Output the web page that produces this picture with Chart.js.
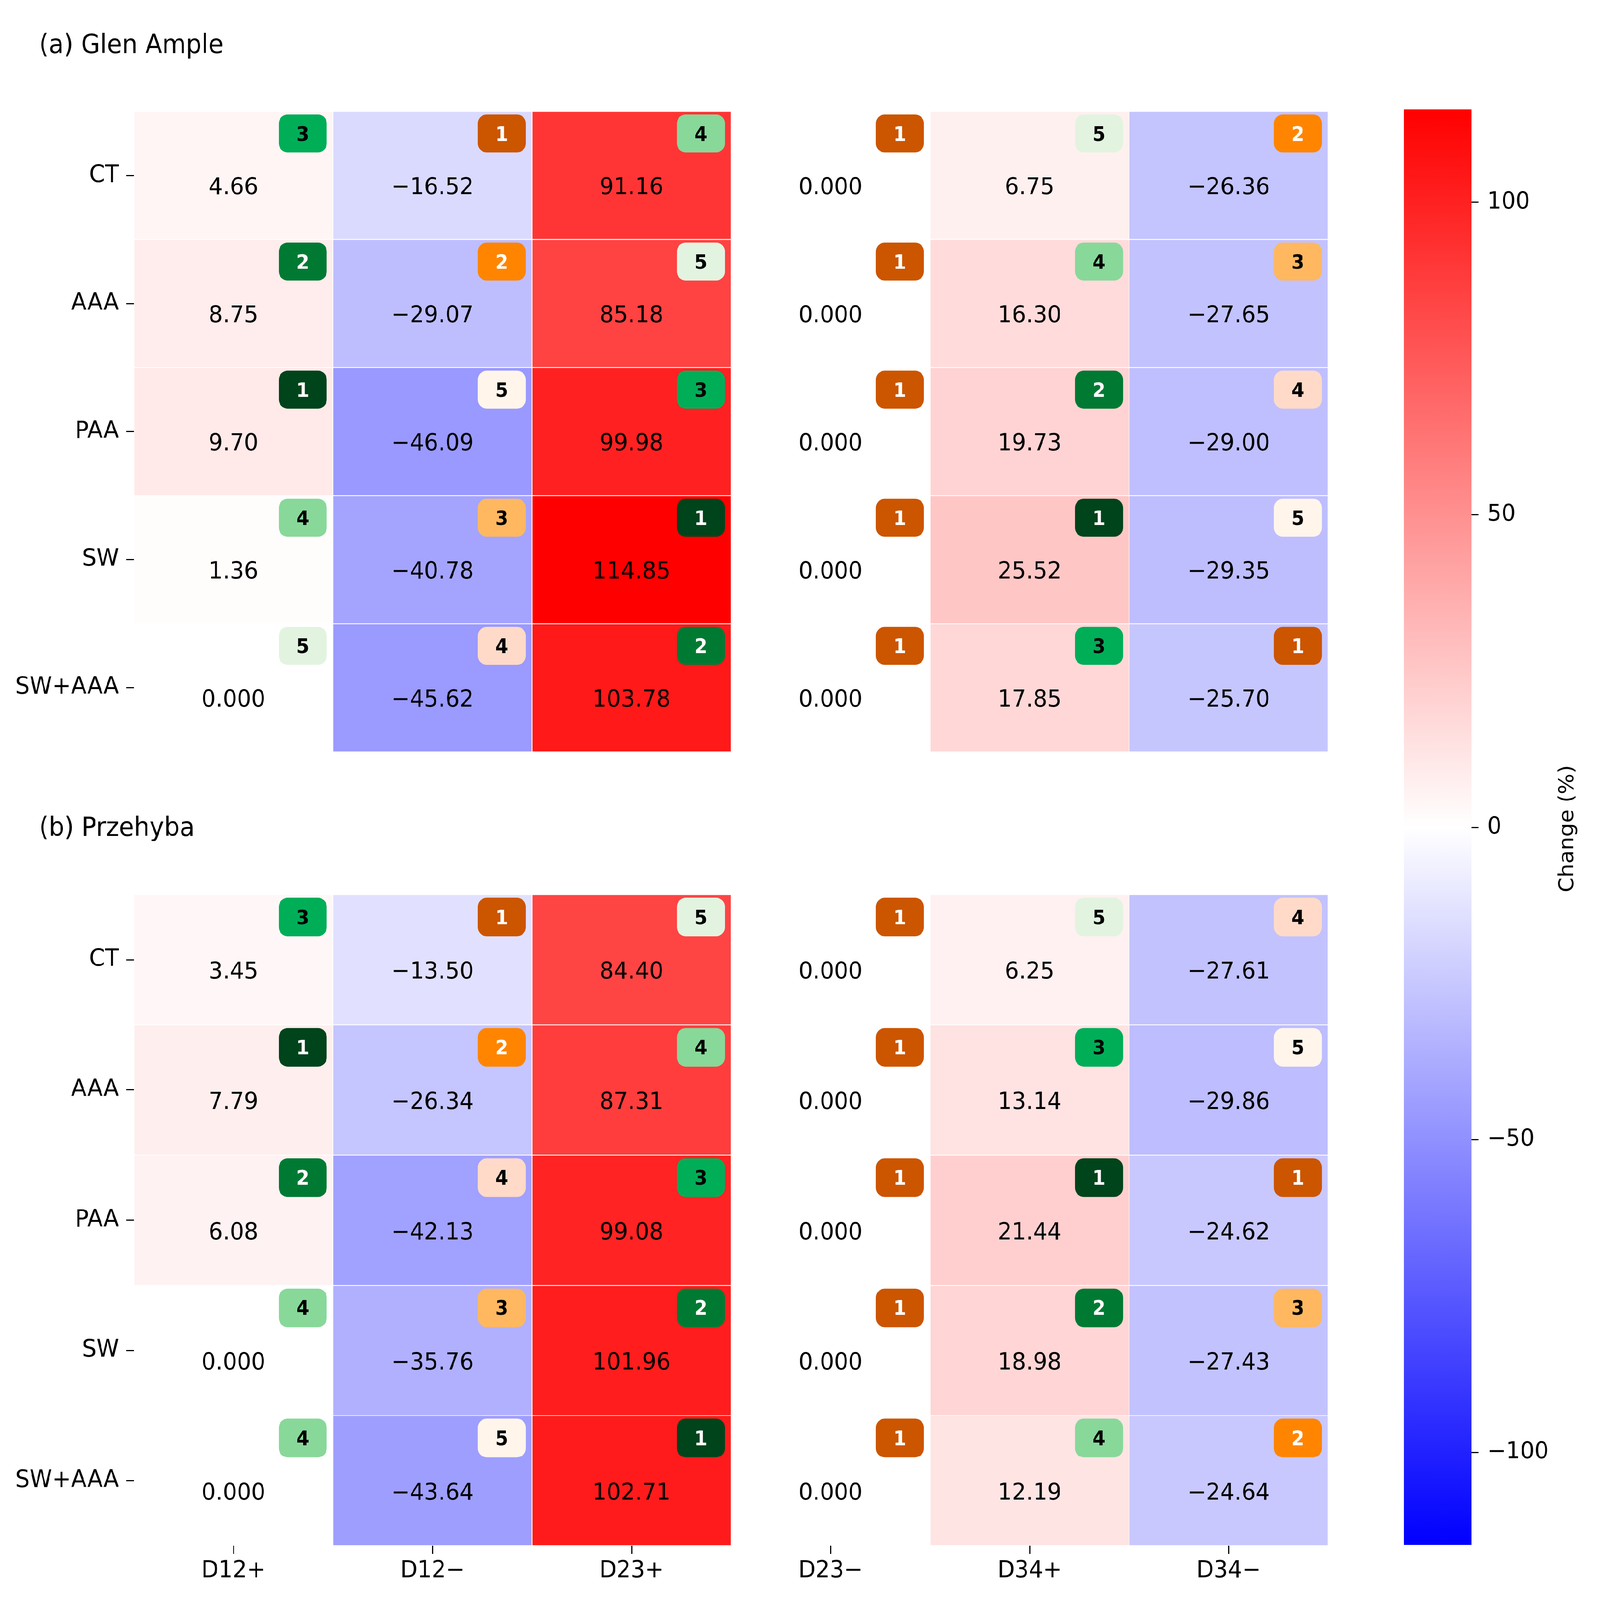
<!DOCTYPE html>
<html>
<head>
<meta charset="utf-8">
<script src="https://cdn.jsdelivr.net/npm/chart.js@4.4.1/dist/chart.umd.min.js"></script>
<style>
  html, body { margin: 0; padding: 0; background: #ffffff; overflow: hidden; }
  #stage { position: absolute; left: 0; top: 0; width: 4373px; height: 4135px; transform-origin: 0 0; background: #ffffff; }
  #stage canvas { position: absolute; }
</style>
</head>
<body>
<div id="stage">
<canvas id="chartA" width="3700" height="2000" style="left:0px;top:0px;width:3700px;height:2000px"></canvas>
<canvas id="chartB" width="3700" height="2135" style="left:0px;top:2000px;width:3700px;height:2135px"></canvas>
<canvas id="chartC" width="573" height="4135" style="left:3800px;top:0px;width:573px;height:4135px"></canvas>
</div>
<script>
// ---------------- DATA ----------------
const columns = ['D12+', 'D12\u2212', 'D23+', 'D23\u2212', 'D34+', 'D34\u2212'];
const treatments = ['CT', 'AAA', 'PAA', 'SW', 'SW+AAA'];

const glenAmpleValues = [
  [4.66, -16.52, 91.16, 0.000, 6.75, -26.36],
  [8.75, -29.07, 85.18, 0.000, 16.30, -27.65],
  [9.70, -46.09, 99.98, 0.000, 19.73, -29.00],
  [1.36, -40.78, 114.85, 0.000, 25.52, -29.35],
  [0.000, -45.62, 103.78, 0.000, 17.85, -25.70]
];
const glenAmpleRanks = [
  [3, 1, 4, 1, 5, 2],
  [2, 2, 5, 1, 4, 3],
  [1, 5, 3, 1, 2, 4],
  [4, 3, 1, 1, 1, 5],
  [5, 4, 2, 1, 3, 1]
];
const przehybaValues = [
  [3.45, -13.50, 84.40, 0.000, 6.25, -27.61],
  [7.79, -26.34, 87.31, 0.000, 13.14, -29.86],
  [6.08, -42.13, 99.08, 0.000, 21.44, -24.62],
  [0.000, -35.76, 101.96, 0.000, 18.98, -27.43],
  [0.000, -43.64, 102.71, 0.000, 12.19, -24.64]
];
const przehybaRanks = [
  [3, 1, 5, 1, 5, 4],
  [1, 2, 4, 1, 3, 5],
  [2, 4, 3, 1, 1, 1],
  [4, 3, 2, 1, 2, 3],
  [4, 5, 1, 1, 4, 2]
];
const colorbarTicks = [-100, -50, 0, 50, 100];

// ---------------- STAGE SCALE (fit the 4373x4135 page into the viewport) ----------------
const PAGE_W = 4373, PAGE_H = 4135;
const fitX = Math.min(1, window.innerWidth / PAGE_W);
const fitY = Math.min(1, window.innerHeight / PAGE_H);
document.getElementById('stage').style.transform = `scale(${fitX}, ${fitY})`;

// ---------------- STYLE ----------------
const FONT = '"DejaVu Sans", "Liberation Sans", sans-serif';
Chart.defaults.font.family = FONT;
Chart.defaults.color = '#000000';

const greenRankColors = ['#00441b', '#007a33', '#00ae58', '#88d89a', '#e2f4e0'];
const orangeRankColors = ['#cc5500', '#ff8500', '#ffb860', '#ffdac8', '#fff5eb'];

const allVals = glenAmpleValues.flat().concat(przehybaValues.flat());
const vmax = Math.max(...allVals.map(v => Math.abs(v)));

function bwr(v) {
  const t = Math.max(-1, Math.min(1, v / vmax));
  if (t >= 0) {
    const g = Math.round(255 * (1 - t));
    return `rgb(255,${g},${g})`;
  } else {
    const g = Math.round(255 * (1 + t));
    return `rgb(${g},${g},255)`;
  }
}
function fmtVal(v) {
  if (v === 0) return '0.000';
  return v.toFixed(2).replace('-', '\u2212');
}
function fmtTick(v) {
  return String(v).replace('-', '\u2212');
}

function roundRectPath(ctx, x, y, w, h, r) {
  ctx.beginPath();
  ctx.moveTo(x + r, y);
  ctx.lineTo(x + w - r, y);
  ctx.arcTo(x + w, y, x + w, y + r, r);
  ctx.lineTo(x + w, y + h - r);
  ctx.arcTo(x + w, y + h, x + w - r, y + h, r);
  ctx.lineTo(x + r, y + h);
  ctx.arcTo(x, y + h, x, y + h - r, r);
  ctx.lineTo(x, y + r);
  ctx.arcTo(x, y, x + r, y, r);
  ctx.closePath();
}

const annotPlugin = {
  id: 'annot',
  afterDatasetsDraw(chart, args, opts) {
    const ctx = chart.ctx;
    const vals = opts.values, ranks = opts.ranks;
    ctx.save();
    chart.data.datasets.forEach((ds, r) => {
      const meta = chart.getDatasetMeta(r);
      meta.data.forEach((bar, c) => {
        const p = bar.getProps(['x', 'y', 'base', 'width'], true);
        const top = Math.min(p.y, p.base), bottom = Math.max(p.y, p.base);
        const h = bottom - top, w = p.width;
        const right = p.x + w / 2;
        const vs = 61;
        ctx.font = `${vs}px ${FONT}`;
        ctx.fillStyle = '#000000';
        ctx.textAlign = 'center';
        ctx.textBaseline = 'alphabetic';
        ctx.fillText(fmtVal(vals[r][c]), p.x, top + 0.58 * h + 0.3645 * vs);
        const rank = ranks[r][c];
        const palette = columns[c].endsWith('+') ? greenRankColors : orangeRankColors;
        const bw = 0.241 * w, bh = 0.297 * h;
        const bx = right - 0.031 * w - bw, by = top + 0.024 * h;
        roundRectPath(ctx, bx, by, bw, bh, 0.24 * bh);
        ctx.fillStyle = palette[rank - 1];
        ctx.fill();
        const bs = 51;
        ctx.font = `bold ${bs}px ${FONT}`;
        ctx.fillStyle = rank <= 2 ? '#ffffff' : '#000000';
        ctx.fillText(String(rank), bx + bw / 2, by + bh / 2 + 0.3645 * bs);
      });
    });
    ctx.restore();
  }
};

const titlePlugin = {
  id: 'panelTitle',
  afterDraw(chart, args, opts) {
    if (!opts || !opts.text) return;
    const ctx = chart.ctx;
    ctx.save();
    ctx.font = `${opts.size}px ${FONT}`;
    ctx.fillStyle = '#000000';
    ctx.textAlign = opts.align || 'left';
    ctx.textBaseline = 'alphabetic';
    if (opts.rotate) {
      ctx.translate(opts.x, opts.y);
      ctx.rotate(opts.rotate);
      ctx.textBaseline = 'middle';
      ctx.fillText(opts.text, 0, 0);
    } else {
      ctx.fillText(opts.text, opts.x, opts.y);
    }
    ctx.restore();
  }
};

function heatmapConfig(values, ranks, title, showX, padTop, xHeight) {
  return {
    type: 'bar',
    data: {
      labels: columns,
      datasets: treatments.map((t, r) => ({
        label: t,
        data: columns.map(() => [r - 0.5, r + 0.5]),
        backgroundColor: values[r].map(bwr),
        borderColor: 'rgba(255,255,255,0.95)',
        borderWidth: 1.5,
        borderSkipped: false,
        grouped: false,
        barPercentage: 1,
        categoryPercentage: 1
      }))
    },
    options: {
      responsive: false,
      devicePixelRatio: 1,
      animation: false,
      events: [],
      layout: { padding: { left: 0, top: padTop, right: 70, bottom: showX ? 0 : 30 } },
      plugins: {
        legend: { display: false },
        tooltip: { enabled: false },
        annot: { values: values, ranks: ranks },
        panelTitle: { text: title, x: 107, y: showX ? 160 : 137, size: 67 }
      },
      scales: {
        x: {
          type: 'category',
          display: showX,
          offset: true,
          afterFit: s => { s.height = xHeight; },
          ticks: { font: { size: 61 }, color: '#000000', padding: 8, maxRotation: 0, autoSkip: false },
          grid: { offset: false, drawOnChartArea: false, tickLength: 21, tickColor: '#000000', tickWidth: 3 },
          border: { display: false }
        },
        y: {
          type: 'linear',
          min: -0.5, max: 4.5,
          reverse: true,
          afterBuildTicks: s => { s.ticks = treatments.map((_, i) => ({ value: i })); },
          afterFit: s => { s.width = 366; },
          ticks: { callback: v => treatments[v], font: { size: 62 }, color: '#000000', padding: 20, autoSkip: false },
          grid: { drawOnChartArea: false, tickLength: 21, tickColor: '#000000', tickWidth: 3 },
          border: { display: false }
        }
      }
    },
    plugins: [annotPlugin, titlePlugin]
  };
}

new Chart(document.getElementById('chartA'),
  heatmapConfig(glenAmpleValues, glenAmpleRanks, '(a) Glen Ample', false, 288, 0));
new Chart(document.getElementById('chartB'),
  heatmapConfig(przehybaValues, przehybaRanks, '(b) Przehyba', true, 312, 140));

// ---------------- COLORBAR ----------------
new Chart(document.getElementById('chartC'), {
  type: 'bar',
  data: {
    labels: ['Change (%)'],
    datasets: [{
      data: [[-vmax, vmax]],
      backgroundColor: (c) => {
        const chart = c.chart;
        const ys = chart.scales.y;
        if (!chart.chartArea || !ys) return '#ffffff';
        const g = chart.ctx.createLinearGradient(0, ys.getPixelForValue(-vmax), 0, ys.getPixelForValue(vmax));
        g.addColorStop(0, bwr(-vmax));
        g.addColorStop(0.5, bwr(0));
        g.addColorStop(1, bwr(vmax));
        return g;
      },
      borderWidth: 0,
      barPercentage: 1,
      categoryPercentage: 1
    }]
  },
  options: {
    responsive: false,
    devicePixelRatio: 1,
    animation: false,
    events: [],
    layout: { padding: { left: 37, top: 283, right: 0, bottom: 142 } },
    plugins: {
      legend: { display: false },
      tooltip: { enabled: false },
      panelTitle: { text: 'Change (%)', x: 484, y: 2142, size: 56, align: 'center', rotate: -Math.PI / 2 }
    },
    scales: {
      x: { display: false, offset: true },
      y: {
        position: 'right',
        min: -vmax, max: vmax,
        afterBuildTicks: s => { s.ticks = colorbarTicks.map(v => ({ value: v })); },
        afterFit: s => { s.width = 351; },
        ticks: { callback: v => fmtTick(v), font: { size: 61 }, color: '#000000', padding: 24 },
        grid: { drawOnChartArea: false, tickLength: 19, tickColor: '#000000', tickWidth: 3 },
        border: { display: false }
      }
    }
  },
  plugins: [titlePlugin]
});
</script>
</body>
</html>
